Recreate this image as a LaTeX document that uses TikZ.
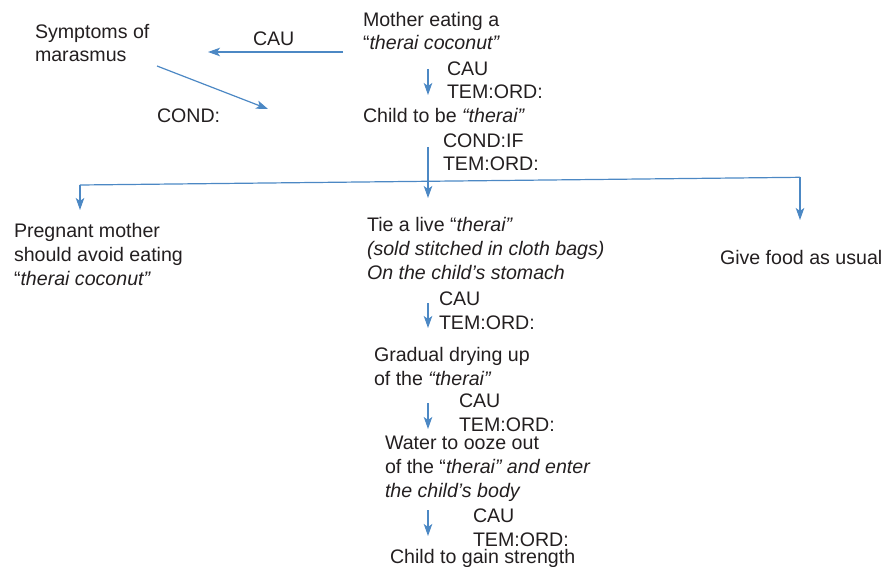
\documentclass[tikz,border=0pt]{standalone}
\usepackage{fontspec}
\setmainfont{Liberation Sans}
\usetikzlibrary{arrows.meta}
\definecolor{flowblue}{RGB}{76,136,196}
\definecolor{ink}{RGB}{35,31,32}
\begin{document}
% multi-line nodes are placed by the baseline of their last line
\begin{tikzpicture}[x=1pt,y=-1pt,
  every node/.style={inner sep=0pt, outer sep=0pt, anchor=base west, align=left,
    text=ink, font=\fontsize{19.6}{23.6}\selectfont},
  flow/.style={draw=flowblue, line width=1.2pt,
    -{Stealth[length=12pt,width=8.5pt,inset=3pt]}},
  plain/.style={draw=flowblue, line width=1.2pt}]
\useasboundingbox (0,0) rectangle (886,567);

% concept nodes
\node (symp)   at (35,62)   {Symptoms of\\marasmus};
\node (mother) at (363,50)  {Mother eating a\\``\textit{therai coconut''}};
\node (child)  at (363,123) {Child to be \textit{``therai''}};
\node (preg)   at (14,285)  {Pregnant mother\\should avoid eating\\``\textit{therai coconut''}};
\node (tie)    at (367,279) {Tie a live ``\textit{therai''}\\\textit{(sold stitched in cloth bags)}\\\textit{On the child's stomach}};
\node (give)   at (720,264) {Give food as usual};
\node (grad)   at (374,385) {Gradual drying up\\of the \textit{``therai''}};
\node (water)  at (385,497) {Water to ooze out\\of the ``\textit{therai'' and enter}\\\textit{the child's body}};
\node (gain)   at (390,563) {Child to gain strength};

% relation labels
\node (lcau0)  at (253,46)  {CAU};
\node (lcond0) at (157,123) {COND:};
\node (lcau1)  at (447,99)  {CAU\\TEM:ORD:};
\node (lcond1) at (443,171) {COND:IF\\TEM:ORD:};
\node (lcau2)  at (439,329) {CAU\\TEM:ORD:};
\node (lcau3)  at (459,431) {CAU\\TEM:ORD:};
\node (lcau4)  at (473,546) {CAU\\TEM:ORD:};

% connector end points
\coordinate (c0a) at (343,52);  \coordinate (c0b) at (208,52);
\coordinate (d0a) at (157,66);  \coordinate (d0b) at (268,109);
\coordinate (c1a) at (428,69);  \coordinate (c1b) at (428,95);
\coordinate (c2a) at (428,147); \coordinate (c2b) at (428,198);
\coordinate (bl)  at (80,185);  \coordinate (br)  at (800,177.3);
\coordinate (pt)  at (80,210);  \coordinate (gt)  at (800,220);
\coordinate (c3a) at (428,303); \coordinate (c3b) at (428,328);
\coordinate (c4a) at (428,403); \coordinate (c4b) at (428,429);
\coordinate (c5a) at (428,510); \coordinate (c5b) at (428,536);

% connectors
\draw[flow] (c0a) -- (c0b);
\draw[flow] (d0a) -- (d0b);
\draw[flow] (c1a) -- (c1b);
\draw[flow] (c2a) -- (c2b);
\draw[plain] (bl) -- (br);
\draw[flow] (bl) -- (pt);
\draw[flow] (br) -- (gt);
\draw[flow] (c3a) -- (c3b);
\draw[flow] (c4a) -- (c4b);
\draw[flow] (c5a) -- (c5b);
\end{tikzpicture}
\end{document}
